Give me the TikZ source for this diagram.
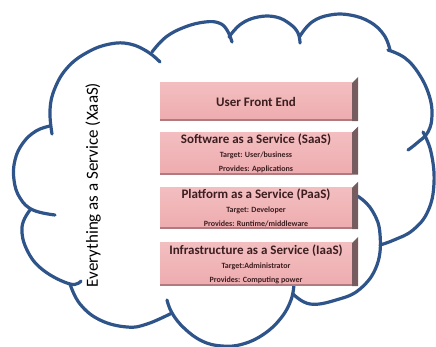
\documentclass[tikz,border=0pt]{standalone}
\usepackage{fontspec}
\setmainfont{Carlito}
\definecolor{cloudblue}{RGB}{46,84,138}
\definecolor{layerpink}{RGB}{238,172,175}
\definecolor{layertop}{RGB}{243,190,192}
\definecolor{layerside}{RGB}{118,92,94}
\definecolor{layerrim}{RGB}{176,122,126}
\definecolor{layertext}{RGB}{60,30,32}
\newcommand{\subline}[1]{{\fontsize{8}{11}\selectfont #1}}
\begin{document}
\begin{tikzpicture}[x=1pt,y=-1pt,
  cloudline/.style={draw=cloudblue,line width=3.2pt,line cap=round},
  layer/.style={top color=layertop,bottom color=layerpink,minimum width=192pt,
    inner sep=1pt,align=center,text=layertext,font=\bfseries\fontsize{13}{14}\selectfont},
  side/.style={fill=layerside},
  rim/.style={draw=layerrim,line width=2pt}]
\useasboundingbox (0,0) rectangle (436,347);
% cloud outline
\draw[cloudline] plot[smooth,tension=0.7] coordinates {(50,126) (36,131) (23,143) (15,160) (14,180) (20,198) (33,210) (55,215)};
\draw[cloudline] plot[smooth,tension=0.7] coordinates {(52,134) (50,110) (55,88) (68,67) (88,52) (110,44) (130,44) (148,52) (160,62)};
\draw[cloudline] plot[smooth,tension=0.7] coordinates {(152,52) (166,37) (185,27) (205,22) (219,23) (227,30) (232,42)};
\draw[cloudline] plot[smooth,tension=0.7] coordinates {(229,37) (241,24) (258,17) (276,17) (290,24) (298,33) (300,43)};
\draw[cloudline] plot[smooth,tension=0.7] coordinates {(300,36) (312,22) (330,15) (350,15) (370,22) (384,35) (390,50)};
\draw[cloudline] plot[smooth,tension=0.7] coordinates {(388,50) (405,58) (419,74) (429,95) (432,115) (428,132) (417,143) (408,150)};
\draw[cloudline] plot[smooth,tension=0.7] coordinates {(423,132) (431,152) (434,183) (428,211) (413,230) (394,240) (380,245)};
\draw[cloudline] plot[smooth,tension=0.7] coordinates {(345,192) (359,197) (373,212) (380,234) (377,265) (360,289) (336,300) (310,304) (293,294)};
\draw[cloudline] plot[smooth,tension=0.7] coordinates {(294,284) (291,300) (281,318) (264,334) (243,344) (222,346) (202,341) (184,328) (172,313) (167,300)};
\draw[cloudline] plot[smooth,tension=0.7] coordinates {(172,313) (147,324) (127,327) (100,320) (80,304) (70,284)};
\draw[cloudline] plot[smooth,tension=0.7] coordinates {(30,210) (22,227) (27,250) (43,270) (70,284) (81,281)};
% title
\node[rotate=90,font=\fontsize{17}{20}\selectfont] (xaas) at (93,185) {Everything as a Service (XaaS)};
% layers
\node[layer,minimum height=37pt] (ufe) at (256,101.5) {User Front End};
\node[layer,minimum height=40pt] (saas) at (256,153) {Software as a Service (SaaS)\\\subline{Target: User/business}\\\subline{Provides: Applications}};
\node[layer,minimum height=40pt] (paas) at (256,208) {Platform as a Service (PaaS)\\\subline{Target: Developer}\\\subline{Provides: Runtime/middleware}};
\node[layer,minimum height=42pt] (iaas) at (256,264) {Infrastructure as a Service (IaaS)\\\subline{Target:Administrator}\\\subline{Provides: Computing power}};
\draw[rim] (ufe.south west) -- (ufe.south east);
\draw[rim] (saas.south west) -- (saas.south east);
\draw[rim] (paas.south west) -- (paas.south east);
\draw[rim] (iaas.south west) -- (iaas.south east);
\fill[side] (ufe.north east) -- ++(6,-6) -- ([xshift=6pt,yshift=-1pt]ufe.south east) -- ([yshift=-1pt]ufe.south east) -- cycle;
\fill[side] (saas.north east) -- ++(6,-6) -- ([xshift=6pt,yshift=-1pt]saas.south east) -- ([yshift=-1pt]saas.south east) -- cycle;
\fill[side] (paas.north east) -- ++(6,-6) -- ([xshift=6pt,yshift=-1pt]paas.south east) -- ([yshift=-1pt]paas.south east) -- cycle;
\fill[side] (iaas.north east) -- ++(6,-6) -- ([xshift=6pt,yshift=-1pt]iaas.south east) -- ([yshift=-1pt]iaas.south east) -- cycle;
\end{tikzpicture}
\end{document}
